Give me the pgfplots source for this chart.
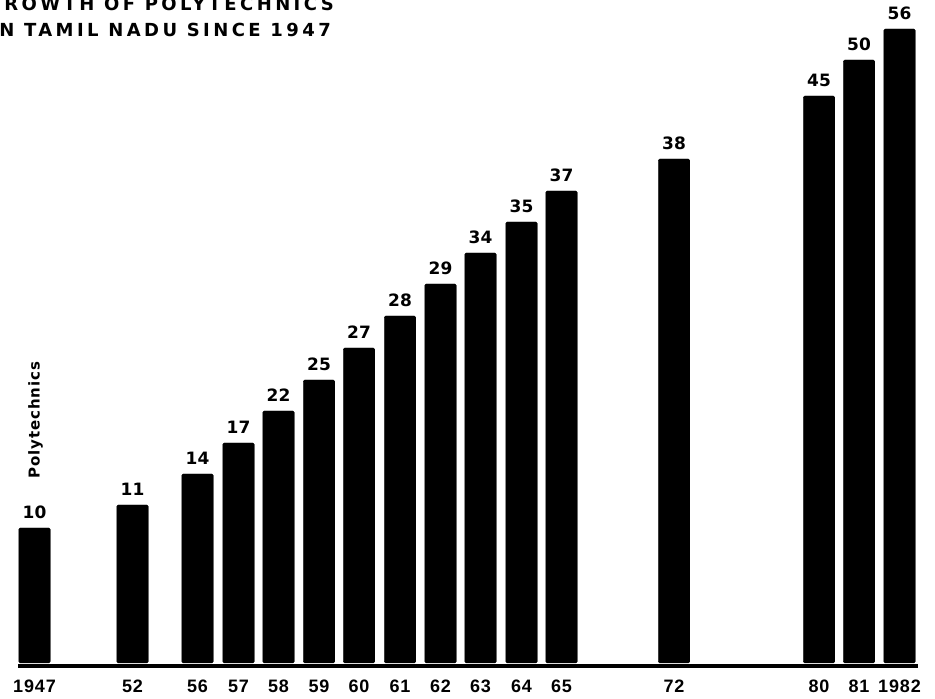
\documentclass[border=0pt]{standalone}
\usepackage{pgfplots}
\pgfplotsset{compat=1.18}
\usepackage{pgfplotstable}
\usepackage{fontspec}
\setmainfont{DejaVu Sans}
\newfontfamily\lib{Liberation Sans}
% x = bar position, h = drawn bar height, n = printed value, lab = year
\pgfplotstableread{
x     h    n   lab
34.5  135  10  1947
132.5 158  11  52
197.5 189  14  56
238.5 220  17  57
278.5 252  22  58
319   283  25  59
359   315  27  60
400   347  28  61
440.5 379  29  62
480.5 410  34  63
521.5 441  35  64
561.5 472  37  65
674   504  38  72
819   567  45  80
859   603  50  81
899.5 634  56  1982
}\data
\begin{document}
\begin{tikzpicture}
\useasboundingbox (0,0) rectangle (935pt,699pt);
\clip (0,0) rectangle (935pt,699pt);
\begin{axis}[
  at={(0pt,36pt)}, anchor=south west,
  scale only axis, width=935pt, height=663pt,
  xmin=0, xmax=935, ymin=0, ymax=663,
  clip=false,
  axis x line=bottom, axis y line=none,
  x axis line style={draw=none},
  major tick length=0pt,
  xtick=data,
  xticklabels from table={\data}{lab},
  xticklabel style={font=\lib\bfseries\fontsize{18}{18}\selectfont\addfontfeature{LetterSpace=5}, anchor=base, yshift=-30pt, inner sep=0pt},
  ytick=\empty,
  /pgf/number format/assume math mode=true,
]
\addplot[ybar, bar width=31.5pt, fill=black, draw=black, rounded corners=1.5pt,
  nodes near coords, point meta=explicit,
  nodes near coords style={font=\bfseries\fontsize{17}{17}\selectfont, anchor=base, yshift=9pt, inner sep=0pt, black}]
  table[x=x, y=h, meta=n]{\data};
\addplot[black, line width=3.5pt, mark=none] coordinates {(18,-3) (918,-3)};
\node[anchor=base east, inner sep=0pt, font=\bfseries\fontsize{18}{18}\selectfont\addfontfeature{LetterSpace=19}] at (axis cs:334,652) {GROWTH OF POLYTECHNICS};
\node[anchor=base east, inner sep=0pt, font=\bfseries\fontsize{18}{18}\selectfont\addfontfeature{LetterSpace=19}] at (axis cs:331,626) {IN TAMIL NADU SINCE 1947};
\node[rotate=90, anchor=center, inner sep=0pt, font=\bfseries\fontsize{15}{15}\selectfont\addfontfeature{LetterSpace=6}] at (axis cs:35.5,243) {Polytechnics};
\end{axis}
\end{tikzpicture}
\end{document}
